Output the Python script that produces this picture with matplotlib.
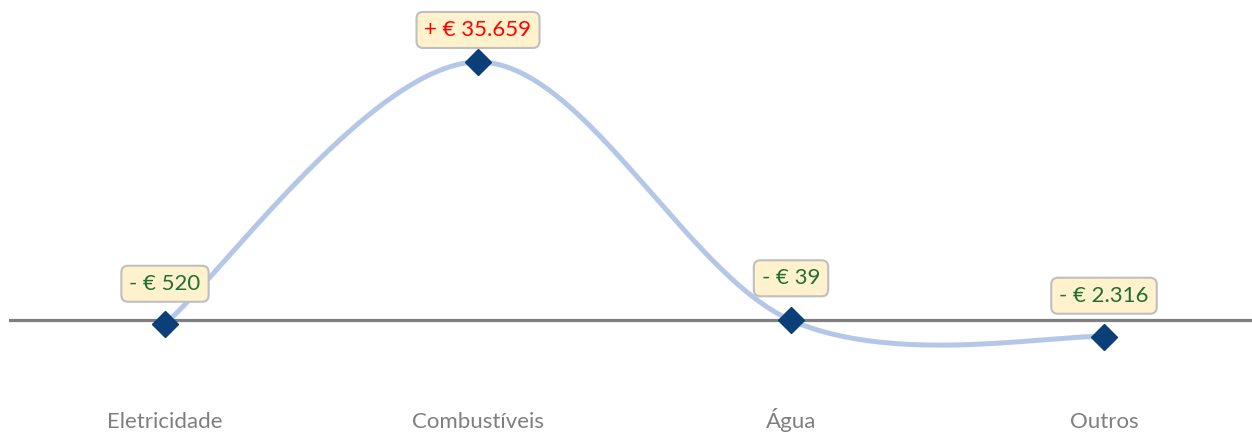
import numpy as np
import matplotlib
matplotlib.use("Agg")
import matplotlib.pyplot as plt
from matplotlib.transforms import blended_transform_factory

plt.rcParams['font.family'] = ['Lato', 'DejaVu Sans']

# data
categorias = ['Eletricidade', 'Combustíveis', 'Água', 'Outros']
variacao = [-520, 35659, -39, -2316]
rotulos = ['- € 520', '+ € 35.659', '- € 39', '- € 2.316']


def smooth_line(x, y, n=60):
    # excel-like smoothed line: bezier with catmull-rom control points
    x = np.asarray(x, float)
    y = np.asarray(y, float)
    pts = np.column_stack([x, y])
    out = []
    for i in range(len(pts) - 1):
        p0 = pts[i]
        p3 = pts[i + 1]
        prev = pts[i - 1] if i > 0 else pts[i]
        nxt = pts[i + 2] if i + 2 < len(pts) else pts[i + 1]
        c1 = p0 + (p3 - prev) / 6
        c2 = p3 - (nxt - p0) / 6
        t = np.linspace(0, 1, n)[:, None]
        seg = ((1 - t) ** 3 * p0 + 3 * (1 - t) ** 2 * t * c1
               + 3 * (1 - t) * t ** 2 * c2 + t ** 3 * p3)
        out.append(seg if i == 0 else seg[1:])
    out = np.vstack(out)
    return out[:, 0], out[:, 1]


fig = plt.figure(figsize=(12.52, 4.33), dpi=100)
ax = fig.add_axes([8.5 / 1252, 40 / 433, 1.0, 393 / 433])

xs = np.arange(len(categorias))
sx, sy = smooth_line(xs, variacao)

ax.axhline(0, color='#7f7f7f', lw=2.3, zorder=1)
ax.plot(sx, sy, color='#b4c7e7', lw=3.6, solid_capstyle='round', zorder=2)
ax.plot(xs, variacao, 'D', color='#0b3f7a', markersize=13, zorder=3)

offsets = [21, 13, 23, 22]
for i, (v, lab) in enumerate(zip(variacao, rotulos)):
    cor = '#ff0000' if v > 0 else '#1e7032'
    ax.annotate(lab, (xs[i], v), xytext=(0, offsets[i] / 1.39 + 6.5),
                textcoords='offset points', ha='center', va='bottom',
                fontsize=16, color=cor, zorder=4,
                bbox=dict(boxstyle='round,pad=0.36,rounding_size=0.3',
                          fc='#fff2cc', ec='#bfbfbf', lw=1.5))

ax.set_xlim(-0.5, 3.5)
ax.set_ylim(-(393 - 320) * 138.2, 320 * 138.2)
ax.set_xticks([])
ax.set_yticks([])
# category names under the chart, baseline near bottom edge
trans = blended_transform_factory(ax.transData, fig.transFigure)
for i, nome in enumerate(categorias):
    ax.text(xs[i], 5 / 433, nome, transform=trans, ha='center',
            va='baseline', fontsize=16, color='#7f7f7f')
for s in ax.spines.values():
    s.set_visible(False)

fig.savefig('out.png', dpi=100)
